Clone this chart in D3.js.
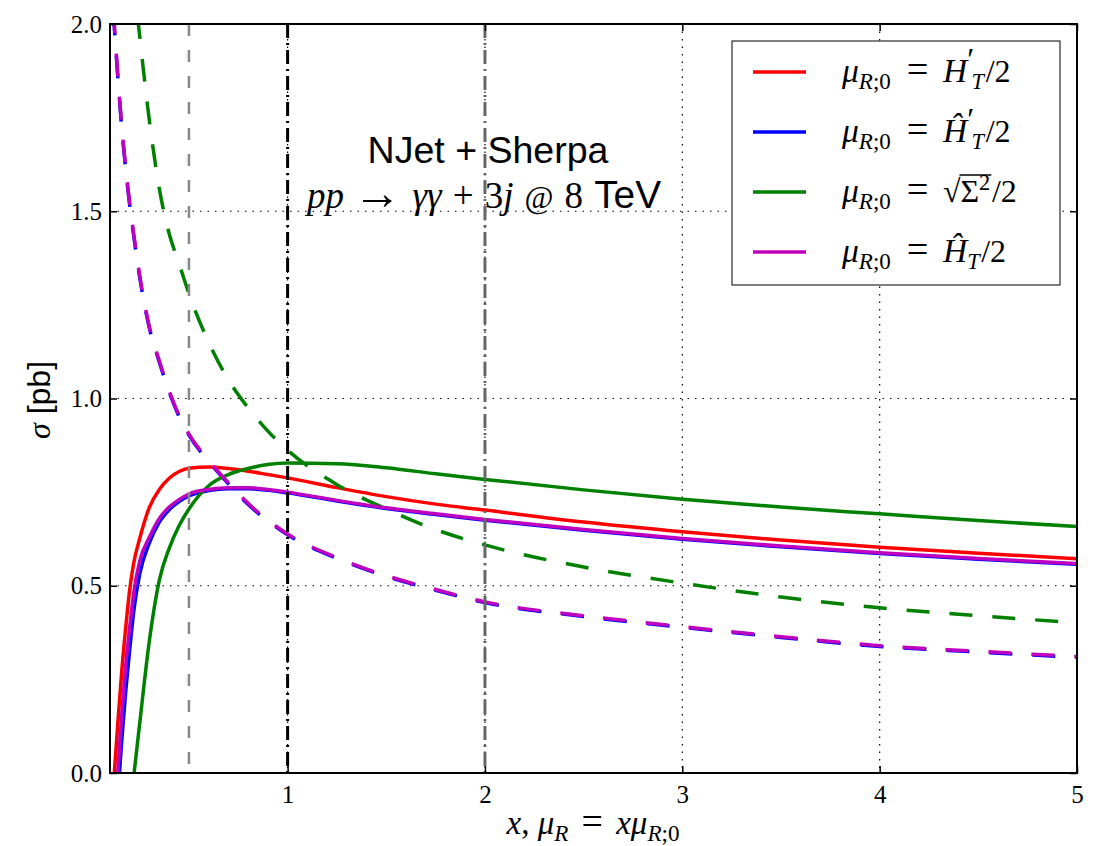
<!DOCTYPE html>
<html>
<head>
<meta charset="utf-8">
<script src="https://cdn.jsdelivr.net/npm/d3@7"></script>
<style>
body{margin:0;background:#fff}
</style>
</head>
<body>
<svg id="chart"></svg>
<script>
// x = mu_R / mu_R;0
var xValues = [0.1, 0.12, 0.14, 0.16, 0.18, 0.2, 0.22, 0.25, 0.3, 0.35, 0.4, 0.45, 0.5, 0.6, 0.7, 0.8, 0.9, 1.0, 1.25, 1.5, 1.75, 2.0, 2.5, 3.0, 3.5, 4.0, 4.5, 5.0]

// NLO (solid)
var redNLO     = [null, -0.015, 0.135, 0.275, 0.39, 0.49, 0.56, 0.625, 0.71, 0.757, 0.787, 0.805, 0.814, 0.817, 0.813, 0.806, 0.797, 0.788, 0.762, 0.738, 0.718, 0.702, 0.670, 0.644, 0.622, 0.603, 0.587, 0.572]
var blueNLO    = [null, -0.22, -0.06, 0.09, 0.22, 0.33, 0.43, 0.53, 0.615, 0.67, 0.703, 0.725, 0.740, 0.754, 0.759, 0.759, 0.755, 0.748, 0.726, 0.706, 0.690, 0.675, 0.648, 0.624, 0.604, 0.586, 0.571, 0.557]
var greenNLO   = [null, null, null, null, null, -0.11, -0.01, 0.13, 0.355, 0.515, 0.60, 0.66, 0.705, 0.767, 0.797, 0.813, 0.824, 0.828, 0.826, 0.815, 0.799, 0.784, 0.756, 0.731, 0.710, 0.692, 0.674, 0.658]
var magentaNLO = [null, -0.15, 0.005, 0.16, 0.29, 0.39, 0.48, 0.565, 0.63, 0.68, 0.71, 0.73, 0.745, 0.757, 0.762, 0.762, 0.757, 0.750, 0.728, 0.708, 0.692, 0.677, 0.650, 0.626, 0.606, 0.588, 0.573, 0.559]

// LO (dashed)
var blueLO     = [2.145, 2.005, 1.855, 1.72, 1.61, 1.515, 1.435, 1.325, 1.187, 1.097, 1.017, 0.952, 0.902, 0.832, 0.772, 0.717, 0.673, 0.636, 0.573, 0.525, 0.488, 0.455, 0.418, 0.389, 0.362, 0.338, 0.323, 0.309]
var greenLO    = [null, null, null, null, null, 2.25, 2.12, 1.97, 1.74, 1.56, 1.44, 1.36, 1.28, 1.15, 1.05, 0.975, 0.913, 0.862, 0.77, 0.705, 0.65, 0.609, 0.55, 0.507, 0.47, 0.441, 0.42, 0.401]
var magentaLO  = [2.15, 2.01, 1.86, 1.725, 1.615, 1.52, 1.44, 1.33, 1.19, 1.10, 1.02, 0.955, 0.905, 0.835, 0.775, 0.72, 0.675, 0.638, 0.575, 0.527, 0.49, 0.457, 0.42, 0.391, 0.364, 0.340, 0.325, 0.311]

var xTicks = [1, 2, 3, 4, 5]
var yTicks = [0, 0.5, 1.0, 1.5, 2.0]
var refLines = [0.5, 1, 2]

var screen = {width:1102, height:846}
var margins = {top:24, right:25, bottom:73, left:110}

var serif = "'Liberation Serif', 'DejaVu Serif', serif"
var sans = "'Liberation Sans', Arial, sans-serif"

var svg = d3.select("#chart")
    .attr("width", screen.width)
    .attr("height", screen.height)

var width = screen.width - margins.left - margins.right
var height = screen.height - margins.top - margins.bottom

var xScale = d3.scaleLinear()
                .domain([0.1, 5])
                .range([0, width])

var yScale = d3.scaleLinear()
                .domain([0, 2])
                .range([height, 0])

var graph = svg.append("g")
    .attr("id", "graph")
    .attr("transform", "translate(" + margins.left + "," + margins.top + ")")

graph.append("clipPath")
    .attr("id", "clip")
    .append("rect")
    .attr("width", width)
    .attr("height", height)

// dotted grid
graph.selectAll(".vgrid")
    .data(xTicks)
    .enter()
    .append("line")
    .attr("x1", function(d){return xScale(d)})
    .attr("x2", function(d){return xScale(d)})
    .attr("y1", 0)
    .attr("y2", height)
    .attr("stroke", "#000")
    .attr("stroke-width", 1.2)
    .attr("stroke-dasharray", "1.5,6")

graph.selectAll(".hgrid")
    .data([0.5, 1.0, 1.5])
    .enter()
    .append("line")
    .attr("x1", 0)
    .attr("x2", width)
    .attr("y1", function(d){return yScale(d)})
    .attr("y2", function(d){return yScale(d)})
    .attr("stroke", "#000")
    .attr("stroke-width", 1.2)
    .attr("stroke-dasharray", "1.5,6")

var series = [
    {values: redNLO, color: "#ff0000", dash: null},
    {values: blueNLO, color: "#0000ff", dash: null},
    {values: blueLO, color: "#0000ff", dash: "23,20"},
    {values: greenNLO, color: "#008000", dash: null},
    {values: greenLO, color: "#008000", dash: "23,20"},
    {values: magentaNLO, color: "#bf00bf", dash: null},
    {values: magentaLO, color: "#bf00bf", dash: "23,20"}
]

var line = d3.line()
    .defined(function(d){return d[1] !== null})
    .x(function(d){return xScale(d[0])})
    .y(function(d){return yScale(d[1])})
    .curve(d3.curveMonotoneX)

graph.append("g")
    .attr("clip-path", "url(#clip)")
    .selectAll("path")
    .data(series)
    .enter()
    .append("path")
    .attr("d", function(s){return line(xValues.map(function(x, i){return [x, s.values[i]]}))})
    .attr("fill", "none")
    .attr("stroke", function(s){return s.color})
    .attr("stroke-width", 3.5)
    .attr("stroke-linejoin", "round")
    .attr("stroke-dasharray", function(s){return s.dash})

// reference scale lines
var refStyle = [
    {color: "#888", dash: "12,14", w: 2.5},
    {color: "#000", dash: "14,5,2,5", w: 3},
    {color: "#666", dash: "14,5,2,5", w: 3}
]
graph.selectAll(".ref")
    .data(refLines)
    .enter()
    .append("line")
    .attr("x1", function(d){return xScale(d)})
    .attr("x2", function(d){return xScale(d)})
    .attr("y1", 0)
    .attr("y2", height)
    .attr("stroke", function(d, i){return refStyle[i].color})
    .attr("stroke-width", function(d, i){return refStyle[i].w})
    .attr("stroke-dasharray", function(d, i){return refStyle[i].dash})

// axes, ticks pointing inwards
var xAxis = d3.axisBottom(xScale).tickValues(xTicks).tickSize(-7).tickPadding(12).tickFormat(d3.format("d"))
var yAxis = d3.axisLeft(yScale).tickValues(yTicks).tickSize(-7).tickPadding(8).tickFormat(d3.format(".1f"))
var xTop = d3.axisTop(xScale).tickValues(xTicks).tickSize(-7).tickFormat("")
var yRight = d3.axisRight(yScale).tickValues(yTicks).tickSize(-7).tickFormat("")

graph.append("g").attr("transform", "translate(0," + height + ")").call(xAxis)
graph.append("g").call(yAxis)
graph.append("g").call(xTop)
graph.append("g").attr("transform", "translate(" + width + ",0)").call(yRight)

graph.selectAll(".domain").remove()
graph.selectAll(".tick line").attr("stroke", "#000").attr("stroke-width", 1.5)
graph.selectAll(".tick text")
    .attr("font-family", serif)
    .attr("font-size", 25)
    .attr("fill", "#000")

graph.append("rect")
    .attr("width", width)
    .attr("height", height)
    .attr("fill", "none")
    .attr("stroke", "#000")
    .attr("stroke-width", 2)

// text with math runs (tspans flow one after the other)
var addRuns = function(textSel, runs, size)
{
    runs.forEach(function(r)
    {
        var ts = textSel.append("tspan").text(r.t)
        if (r.i) ts.attr("font-style", "italic")
        if (r.sans) ts.attr("font-family", sans)
        ts.attr("font-size", size * (r.s || 1))
        if (r.dy) ts.attr("dy", r.dy * size)
        if (r.dx) ts.attr("dx", r.dx * size)
    })
}

// title
svg.append("text")
    .attr("x", 488)
    .attr("y", 163)
    .attr("text-anchor", "middle")
    .attr("font-family", sans)
    .attr("font-size", 37.5)
    .text("NJet + Sherpa")

var sub = svg.append("text")
    .attr("x", 484)
    .attr("y", 208)
    .attr("text-anchor", "middle")
    .attr("font-family", serif)
addRuns(sub, [
    {t:"pp", i:1}, {t:"→", dx:0.25, s:1.3, dy:0.03}, {t:"γγ", i:1, dx:0.3, dy:-0.03}, {t:"+", dx:0.3}, {t:"3", dx:0.3},
    {t:"j", i:1}, {t:"@", s:0.85, dx:0.3}, {t:"8", dx:0.3}, {t:"TeV", sans:1, s:1.05, dx:0.3}
], 37)

// axis titles
var xlab = svg.append("text")
    .attr("x", 593)
    .attr("y", 834)
    .attr("text-anchor", "middle")
    .attr("font-family", serif)
addRuns(xlab, [
    {t:"x", i:1}, {t:","}, {t:"μ", i:1, dx:0.25}, {t:"R", i:1, s:0.7, dy:0.22}, {t:"=", dy:-0.22, dx:0.4, s:1.15},
    {t:"xμ", i:1, dx:0.4}, {t:"R", i:1, s:0.7, dy:0.22}, {t:";0", s:0.7}
], 33)

var ylab = svg.append("text")
    .attr("transform", "translate(50,400) rotate(-90)")
    .attr("text-anchor", "middle")
    .attr("font-family", sans)
addRuns(ylab, [{t:"σ", i:1}, {t:" [pb]"}], 32)
ylab.select("tspan").attr("font-family", serif)

// legend
var legendItems = [
    {color: "#ff0000", runs: [{t:"H", i:1, dx:0.45, s:1.05}, {t:"′", dy:-0.38}, {t:"T", i:1, s:0.7, dx:-0.08, dy:0.6}, {t:"/2", dy:-0.22, dx:0.05}]},
    {color: "#0000ff", runs: [{t:"Ĥ", i:1, dx:0.45, s:1.05}, {t:"′", dy:-0.38}, {t:"T", i:1, s:0.7, dx:-0.08, dy:0.6}, {t:"/2", dy:-0.22, dx:0.05}]},
    {color: "#008000", runs: [{t:"√", dx:0.45}, {t:"Σ"}, {t:"2", s:0.7, dy:-0.38}, {t:"/2", dy:0.38, dx:0.05}]},
    {color: "#bf00bf", runs: [{t:"Ĥ", i:1, dx:0.45, s:1.05}, {t:"T", i:1, s:0.7, dy:0.22}, {t:"/2", dy:-0.22, dx:0.05}]}
]
var legendY = [72, 132, 192, 252]

var legend = svg.append("g")
legend.append("rect")
    .attr("x", 732)
    .attr("y", 41)
    .attr("width", 328)
    .attr("height", 244)
    .attr("fill", "#fff")
    .attr("stroke", "#000")
    .attr("stroke-width", 1)

legendItems.forEach(function(item, i)
{
    legend.append("line")
        .attr("x1", 753)
        .attr("x2", 806)
        .attr("y1", legendY[i])
        .attr("y2", legendY[i])
        .attr("stroke", item.color)
        .attr("stroke-width", 3.5)
    var t = legend.append("text")
        .attr("x", 842)
        .attr("y", legendY[i] + 10)
        .attr("font-family", serif)
    addRuns(t, [{t:"μ", i:1, s:1.05}, {t:"R", i:1, s:0.72, dy:0.22}, {t:";0", s:0.72}, {t:"=", dy:-0.22, dx:0.5, s:1.2}].concat(item.runs), 32)

    // radical bar over Σ²
    if (i == 2)
    {
        var node = t.node()
        var full = node.textContent
        var k = full.indexOf("√")
        var start = node.getEndPositionOfChar(k)
        var end = node.getEndPositionOfChar(k + 2)
        legend.append("line")
            .attr("x1", start.x - 1)
            .attr("x2", end.x + 1)
            .attr("y1", legendY[i] - 17)
            .attr("y2", legendY[i] - 17)
            .attr("stroke", "#000")
            .attr("stroke-width", 1.3)
    }
})
</script>
</body>
</html>
